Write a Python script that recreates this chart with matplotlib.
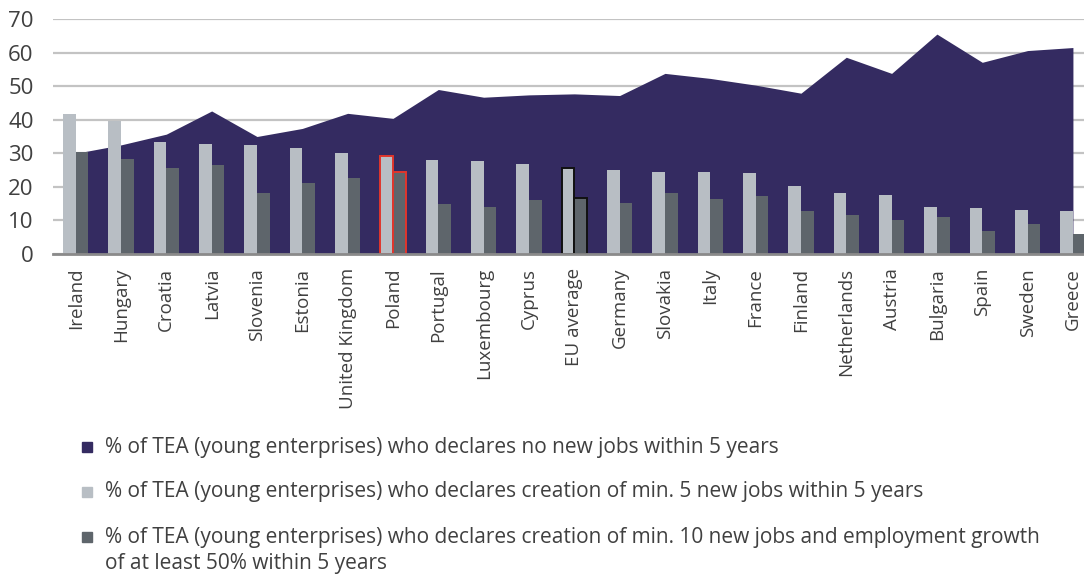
import matplotlib
matplotlib.use("Agg")
import matplotlib.pyplot as plt
import numpy as np
from matplotlib.patches import Rectangle

plt.rcParams['font.family'] = ['Open Sans', 'DejaVu Sans']

countries = ["Ireland", "Hungary", "Croatia", "Latvia", "Slovenia", "Estonia",
             "United Kingdom", "Poland", "Portugal", "Luxembourg", "Cyprus",
             "EU average", "Germany", "Slovakia", "Italy", "France", "Finland",
             "Netherlands", "Austria", "Bulgaria", "Spain", "Sweden", "Greece"]

# % of TEA declaring no new jobs within 5 years
no_jobs = [30.0, 32.5, 35.7, 42.6, 35.0, 37.4, 41.9, 40.4, 49.0, 46.7, 47.4,
           47.7, 47.2, 53.8, 52.3, 50.3, 47.9, 58.6, 53.8, 65.5, 57.1, 60.6, 61.5]

# % declaring min. 5 new jobs within 5 years
min5_jobs = [41.7, 39.7, 33.3, 32.7, 32.5, 31.6, 30.2, 29.3, 27.9, 27.6, 26.7,
             25.5, 25.0, 24.5, 24.3, 24.2, 20.4, 18.1, 17.7, 14.1, 13.8, 13.0, 12.9]

# % declaring min. 10 new jobs and 50% growth within 5 years
min10_jobs = [30.5, 28.4, 25.5, 26.5, 18.1, 21.2, 22.5, 24.3, 14.8, 14.1, 16.1,
              16.6, 15.3, 18.3, 16.3, 17.4, 12.9, 11.7, 10.1, 11.1, 6.8, 8.8, 5.9]

legend_labels = [
    "% of TEA (young enterprises) who declares no new jobs within 5 years",
    "% of TEA (young enterprises) who declares creation of min. 5 new jobs within 5 years",
    "% of TEA (young enterprises) who declares creation of min. 10 new jobs and employment growth\nof at least 50% within 5 years",
]

# highlighted groups get an outline
highlight = {"Poland": "#e0362c", "EU average": "#111111"}

C_AREA = "#342b61"
C_LIGHT = "#b8bec4"
C_DARK = "#5e656b"
C_TEXT = "#404040"

W, H = 1084, 575
fig = plt.figure(figsize=(W / 100, H / 100), dpi=100)
ax = fig.add_axes([53 / W, 1 - 254 / H, 1 - 53 / W, (254 - 19) / H])

x = np.arange(len(countries))
bw = 0.28

ax.fill_between(x, no_jobs, 0, color=C_AREA, linewidth=0, zorder=2)

edges = [highlight.get(c, "none") for c in countries]
lw = [1.4 if c in highlight else 0 for c in countries]

ax.bar(x - bw / 2, min5_jobs, bw, color=C_LIGHT, edgecolor=edges,
       linewidth=lw, zorder=3)
ax.bar(x + bw / 2, min10_jobs, bw, color=C_DARK, edgecolor=edges,
       linewidth=lw, zorder=3)

ax.set_xlim(-0.5, (W - 53) / 45.33 - 0.5)
ax.set_ylim(0, 70)
ax.set_yticks(range(0, 71, 10))
ax.yaxis.grid(True, color="#c3c3c3", linewidth=1.6, zorder=0)
ax.set_axisbelow(True)

for s in ["top", "right", "left"]:
    ax.spines[s].set_visible(False)
ax.spines["bottom"].set_color("#8a8a8a")
ax.spines["bottom"].set_linewidth(2)
ax.spines["bottom"].set_zorder(4)

ax.set_xticks(x)
ax.set_xticklabels(countries, rotation=90, fontsize=13.5, color=C_TEXT)
ax.tick_params(axis="x", length=0, pad=10)
ax.tick_params(axis="y", length=0, pad=14, labelsize=16, labelcolor=C_TEXT)

# legend below the chart
leg_y = [447, 492, 537]
for yy, col, lab in zip(leg_y, [C_AREA, C_LIGHT, C_DARK], legend_labels):
    fig.patches.append(Rectangle((82 / W, 1 - (yy + 5) / H), 10 / W, 10 / H,
                                 transform=fig.transFigure, color=col))
    for i, line in enumerate(lab.split("\n")):
        fig.text(105 / W, 1 - (yy + 26 * i) / H, line, fontsize=15,
                 color=C_TEXT, va="center")

fig.savefig("out.png", dpi=100)
